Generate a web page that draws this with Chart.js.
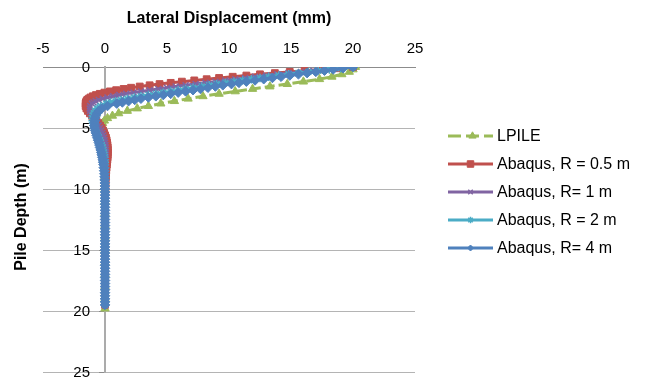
<!DOCTYPE html>
<html>
<head>
<meta charset="utf-8">
<script src="https://cdn.jsdelivr.net/npm/chart.js@4.4.1/dist/chart.umd.min.js"></script>
<style>
  html, body { margin: 0; padding: 0; background: #ffffff; }
  #wrap { width: 648px; height: 381px; position: relative; }
</style>
</head>
<body>
<div id="wrap"><canvas id="c"></canvas></div>
<script>
// ---- data ----
const X_TITLE = 'Lateral Displacement (mm)';
const Y_TITLE = 'Pile Depth (m)';
const SERIES_NAMES = ['LPILE', 'Abaqus, R = 0.5 m', 'Abaqus, R= 1 m', 'Abaqus, R = 2 m', 'Abaqus, R= 4 m'];

// LPILE depths (m) and deflections (mm)
const DEPTH_LPILE = [0,0.2,0.4,0.6,0.8,1.0,1.2,1.4,1.6,1.8,2.0,2.2,2.4,2.6,2.8,3.0,3.2,3.4,3.6,3.8,4.0,4.2,4.4,4.6,4.8,5.0,5.2,5.4,5.6,5.8,6.0,6.2,6.4,6.6,6.8,7.0,7.2,7.4,7.6,7.8,8.0,9,10,11,12,13,14,15,16,17,18,19,19.8];
const X_LPILE = [20.2,20.0,19.7,19.1,18.3,17.3,16.0,14.7,13.3,11.9,10.5,9.2,7.9,6.7,5.6,4.5,3.5,2.6,1.8,1.1,0.6,0.2,-0.05,-0.2,-0.3,-0.35,-0.37,-0.37,-0.35,-0.32,-0.28,-0.25,-0.21,-0.18,-0.15,-0.12,-0.09,-0.07,-0.05,-0.03,-0.02,-0.01,0,0,0,0,0,0,0,0,0,0,0];

// Abaqus depths (m)
const DEPTH_ABQ = [0,0.1,0.2,0.3,0.4,0.5,0.6,0.7,0.8,0.9,1.0,1.1,1.2,1.3,1.4,1.5,1.6,1.7,1.8,1.9,2.0,2.1,2.2,2.3,2.4,2.5,2.6,2.7,2.8,2.9,3.0,
  3.2,3.4,3.6,3.8,4.0,4.2,4.4,4.6,4.8,5.0,5.2,5.4,5.6,5.8,6.0,6.2,6.4,6.6,6.8,7.0,7.2,7.4,7.6,7.8,8.0,
  8.25,8.5,8.75,9.0,9.25,9.5,9.75,10.0,10.25,10.5,
  10.75,11.0,11.25,11.5,11.75,12.0,12.25,12.5,12.75,13.0,13.25,13.5,13.75,14.0,14.25,14.5,14.75,15.0,
  15.25,15.5,15.75,16.0,16.25,16.5,16.75,17.0,17.25,17.5,17.75,18.0,18.25,18.5,18.75,19.0,19.25,19.5];

const X_R05 = [20.0,18.7,17.4,16.1,14.9,13.7,12.5,11.4,10.3,9.2,8.2,7.2,6.2,5.3,4.4,3.6,2.8,2.1,1.5,0.9,0.4,-0.05,-0.42,-0.73,-0.98,-1.18,-1.32,-1.43,-1.5,-1.54,-1.56,
  -1.56,-1.5,-1.38,-1.22,-1.05,-0.87,-0.7,-0.54,-0.4,-0.27,-0.16,-0.07,0.01,0.08,0.13,0.17,0.2,0.22,0.23,0.23,0.22,0.21,0.19,0.17,0.15,
  0.12,0.1,0.08,0.07,0.05,0.04,0.03,0.02,0.02,0.01,
  0,0,0,0,0,0,0,0,0,0,0,0,0,0,0,0,0,0,
  0,0,0,0,0,0,0,0,0,0,0,0,0,0,0,0,0,0];

const X_R1 = [20.0,18.9,17.8,16.8,15.8,14.8,13.9,13.0,12.1,11.3,10.5,9.7,8.9,8.1,7.3,6.5,5.7,5.0,4.3,3.6,2.9,2.3,1.7,1.15,0.65,0.2,-0.18,-0.5,-0.75,-0.93,-1.06,
  -1.2,-1.24,-1.21,-1.13,-1.02,-0.9,-0.77,-0.64,-0.52,-0.41,-0.31,-0.22,-0.14,-0.08,-0.03,0.01,0.04,0.06,0.07,0.07,0.07,0.06,0.05,0.04,0.03,
  0.02,0.02,0.01,0.01,0,0,0,0,0,0,
  0,0,0,0,0,0,0,0,0,0,0,0,0,0,0,0,0,0,
  0,0,0,0,0,0,0,0,0,0,0,0,0,0,0,0,0,0];

const X_R2 = [20.0,19.0,18.1,17.2,16.4,15.6,14.8,14.0,13.2,12.5,11.8,11.1,10.4,9.7,9.0,8.4,7.8,7.1,6.5,5.9,5.3,4.7,4.1,3.5,2.9,2.35,1.8,1.3,0.85,0.45,0.1,
  -0.35,-0.62,-0.8,-0.91,-0.97,-1.0,-1.0,-0.97,-0.91,-0.84,-0.76,-0.67,-0.58,-0.49,-0.41,-0.34,-0.27,-0.21,-0.16,-0.12,-0.09,-0.06,-0.04,-0.02,-0.01,
  0,0,0,0,0,0,0,0,0,0,
  0,0,0,0,0,0,0,0,0,0,0,0,0,0,0,0,0,0,
  0,0,0,0,0,0,0,0,0,0,0,0,0,0,0,0,0,0];

const X_R4 = [20.0,19.2,18.4,17.7,17.0,16.3,15.6,14.9,14.2,13.5,12.8,12.1,11.4,10.8,10.2,9.5,8.9,8.3,7.7,7.1,6.5,5.9,5.3,4.7,4.1,3.5,2.9,2.4,1.9,1.4,0.95,
  0.2,-0.25,-0.5,-0.65,-0.74,-0.8,-0.84,-0.86,-0.86,-0.84,-0.8,-0.74,-0.68,-0.62,-0.56,-0.5,-0.45,-0.4,-0.35,-0.3,-0.26,-0.22,-0.18,-0.15,-0.12,
  -0.1,-0.07,-0.05,-0.04,-0.03,-0.02,-0.01,-0.01,0,0,
  0,0,0,0,0,0,0,0,0,0,0,0,0,0,0,0,0,0,
  0,0,0,0,0,0,0,0,0,0,0,0,0,0,0,0,0,0];

const X_MIN = -5, X_MAX = 25, X_STEP = 5;
const Y_MIN = 0, Y_MAX = 25, Y_STEP = 5;

// ---- styles ----
const COLORS = ['#9BBB59', '#C0504D', '#8064A2', '#4BACC6', '#4F81BD'];
const STYLES = ['triangle', 'rect', 'crossRot', 'star', 'rectRot'];
const RADII = [4.8, 4.8, 4.2, 4.2, 4.8];
const LEG_RADII = [4.2, 4.6, 3.2, 3.2, 3.0];

function pts(depths, xs) { return depths.map((d, i) => ({ x: xs[i], y: d })); }

const SERIES_DATA = [
  pts(DEPTH_LPILE, X_LPILE),
  pts(DEPTH_ABQ, X_R05),
  pts(DEPTH_ABQ, X_R1),
  pts(DEPTH_ABQ, X_R2),
  pts(DEPTH_ABQ, X_R4)
];

const FONT = '"Liberation Sans", Arial, Helvetica, sans-serif';
Chart.defaults.font.family = FONT;
Chart.defaults.color = '#000000';

const datasets = SERIES_DATA.map((data, i) => ({
  label: SERIES_NAMES[i],
  data: data,
  showLine: true,
  borderColor: COLORS[i],
  backgroundColor: COLORS[i],
  borderWidth: 3,
  borderDash: i === 0 ? [10, 4] : [],
  pointStyle: STYLES[i],
  pointRadius: RADII[i],
  pointHoverRadius: RADII[i],
  pointBorderWidth: (i === 2 || i === 3) ? 1.5 : 1,
  pointBackgroundColor: COLORS[i],
  pointBorderColor: COLORS[i],
  tension: 0,
  order: 5 - i
}));

// y tick labels drawn just left of the x = 0 axis (Excel "next to axis")
const yLabelsPlugin = {
  id: 'yLabels',
  afterDraw(chart) {
    const ctx = chart.ctx;
    const xs = chart.scales.x, ys = chart.scales.y;
    const ax = xs.getPixelForValue(0);
    ctx.save();
    ctx.font = '15px ' + FONT;
    ctx.fillStyle = '#000';
    ctx.textAlign = 'right';
    ctx.textBaseline = 'middle';
    ys.ticks.forEach(t => {
      ctx.fillText(String(t.value), ax - 15, ys.getPixelForValue(t.value) + 1);
    });
    ctx.restore();
  }
};

const yTitlePlugin = {
  id: 'yTitle',
  afterDraw(chart) {
    const ctx = chart.ctx;
    ctx.save();
    ctx.translate(22, 217);
    ctx.rotate(-Math.PI / 2);
    ctx.font = 'bold 16px ' + FONT;
    ctx.fillStyle = '#000';
    ctx.textAlign = 'center';
    ctx.textBaseline = 'middle';
    ctx.fillText(Y_TITLE, 0, 0);
    ctx.restore();
  }
};

const legendPlugin = {
  id: 'customLegend',
  afterDraw(chart) {
    const ctx = chart.ctx;
    const x0 = 448, x1 = 493, tx = 497;
    const ys = [136, 164, 192, 220, 248];
    for (let i = 0; i < SERIES_NAMES.length; i++) {
      const y = ys[i];
      ctx.save();
      ctx.strokeStyle = COLORS[i];
      ctx.lineWidth = 3;
      ctx.lineCap = 'butt';
      ctx.setLineDash(i === 0 ? [13, 5] : []);
      ctx.beginPath();
      ctx.moveTo(x0, y);
      ctx.lineTo(x1, y);
      ctx.stroke();
      ctx.setLineDash([]);
      ctx.fillStyle = COLORS[i];
      ctx.strokeStyle = COLORS[i];
      ctx.lineWidth = (i === 2 || i === 3) ? 1.5 : 1;
      const mx = (x0 + x1) / 2;
      if (Chart.helpers && Chart.helpers.drawPoint) {
        Chart.helpers.drawPoint(ctx, { pointStyle: STYLES[i], radius: LEG_RADII[i], rotation: 0, borderWidth: ctx.lineWidth }, i === 0 ? mx + 2 : mx, y);
      }
      ctx.restore();
      ctx.save();
      ctx.font = '16px ' + FONT;
      ctx.fillStyle = '#000';
      ctx.textAlign = 'left';
      ctx.textBaseline = 'middle';
      ctx.fillText(SERIES_NAMES[i], tx, y + 1);
      ctx.restore();
    }
  }
};

new Chart(document.getElementById('c'), {
  type: 'scatter',
  data: { datasets },
  options: {
    responsive: true,
    maintainAspectRatio: false,
    devicePixelRatio: 1,
    animation: false,
    layout: { padding: { left: 43, right: 233, top: 0, bottom: 9 } },
    plugins: {
      legend: { display: false },
      tooltip: { enabled: false },
      title: { display: false }
    },
    scales: {
      x: {
        type: 'linear',
        position: 'top',
        min: X_MIN, max: X_MAX,
        afterFit(scale) { scale.height = 67; },
        ticks: { stepSize: X_STEP, font: { size: 15 }, color: '#000', padding: 9, maxRotation: 0 },
        grid: { display: true, drawOnChartArea: false, drawTicks: false },
        border: { display: true, color: '#8c8c8c', width: 1 },
        title: { display: true, text: X_TITLE, font: { size: 16, weight: 'bold' }, color: '#000', padding: { top: 9, bottom: 0 } }
      },
      y: {
        type: 'linear',
        position: { x: 0 },
        reverse: true,
        min: Y_MIN, max: Y_MAX,
        ticks: { stepSize: Y_STEP, display: false },
        grid: {
          color: (c) => (c.tick && c.tick.value === 0) ? '#8c8c8c' : '#b4b4b4',
          lineWidth: 1,
          tickColor: '#8c8c8c',
          tickLength: 5,
          drawTicks: true
        },
        border: { display: true, color: '#ababab', width: 2 },
        title: { display: false }
      }
    }
  },
  plugins: [yLabelsPlugin, yTitlePlugin, legendPlugin]
});
</script>
</body>
</html>
